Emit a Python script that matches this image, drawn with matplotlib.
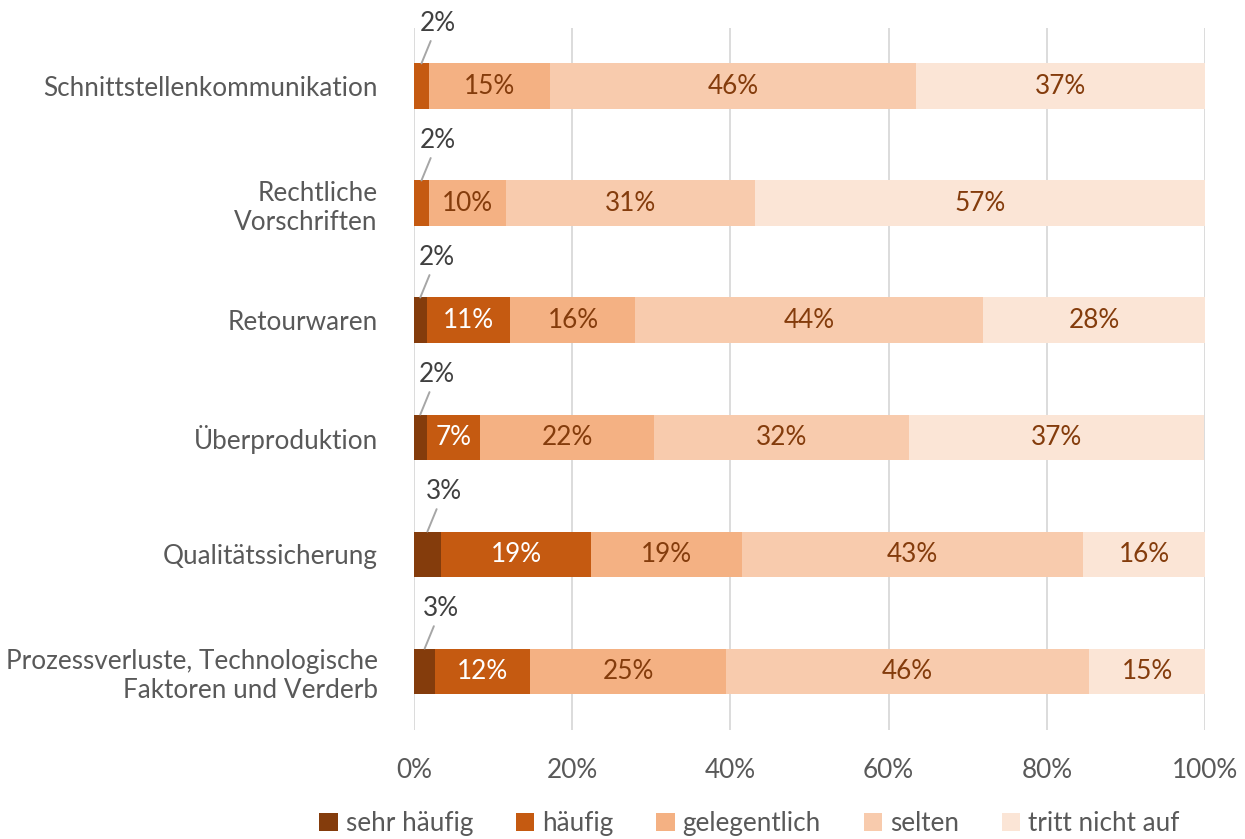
import matplotlib
matplotlib.use("Agg")
import matplotlib.pyplot as plt
import numpy as np

plt.rcParams['font.family'] = ['Lato', 'DejaVu Sans']

categories = ["Schnittstellenkommunikation", "Rechtliche\nVorschriften", "Retourwaren",
              "Überproduktion", "Qualitätssicherung",
              "Prozessverluste, Technologische\nFaktoren und Verderb"]
series_names = ["sehr häufig", "häufig", "gelegentlich", "selten", "tritt nicht auf"]
sehr_haeufig = [0.0, 0.0, 1.6, 1.6, 3.4, 2.7]
haeufig = [1.9, 1.9, 10.6, 6.8, 19.0, 12.0]
gelegentlich = [15.3, 9.7, 15.8, 22.0, 19.0, 24.8]
selten = [46.3, 31.5, 43.9, 32.2, 43.2, 45.8]
tritt_nicht_auf = [36.5, 56.9, 28.1, 37.3, 15.4, 14.8]
labels_sehr = ["", "", "2%", "2%", "3%", "3%"]
labels_haeufig = ["2%", "2%", "11%", "7%", "19%", "12%"]
labels_gel = ["15%", "10%", "16%", "22%", "19%", "25%"]
labels_selten = ["46%", "31%", "44%", "32%", "43%", "46%"]
labels_tna = ["37%", "57%", "28%", "37%", "16%", "15%"]
xticks = [0, 20, 40, 60, 80, 100]
xtick_labels = ["0%", "20%", "40%", "60%", "80%", "100%"]

colors = ["#843C0C", "#C55A11", "#F4B183", "#F8CBAD", "#FBE5D6"]
text_colors = ["#404040", "white", "#843C0C", "#843C0C", "#843C0C"]

data = [sehr_haeufig, haeufig, gelegentlich, selten, tritt_nicht_auf]
labels = [labels_sehr, labels_haeufig, labels_gel, labels_selten, labels_tna]

FS = 18.8
fig = plt.figure(figsize=(12.45, 8.39), dpi=100)
ax = fig.add_axes([0.3325, 0.13, 0.968 - 0.3325, 0.967 - 0.13])

y = np.arange(len(categories))[::-1]
left = np.zeros(len(categories))
bar_h = 0.39
for si, (vals, name) in enumerate(zip(data, series_names)):
    vals = np.array(vals)
    ax.barh(y, vals, left=left, height=bar_h, color=colors[si], label=name, zorder=3)
    for i in range(len(categories)):
        lab = labels[si][i]
        if not lab:
            continue
        cx = left[i] + vals[i] / 2
        if vals[i] < 4:
            ax.annotate(lab, xy=(cx, y[i] + bar_h / 2), xytext=(cx + 2.1, y[i] + 0.54),
                        ha='center', va='center', fontsize=FS, color="#404040",
                        arrowprops=dict(arrowstyle='-', color='#A6A6A6', lw=1.4,
                                        patchA=None, shrinkA=14, shrinkB=0), zorder=4)
        else:
            ax.text(cx, y[i], lab, ha='center', va='center', fontsize=FS,
                    color=text_colors[si], zorder=4)
    left += vals

ax.set_xlim(0, 100)
ax.set_ylim(-0.5, len(categories) - 0.5)
ax.set_xticks(xticks)
ax.set_xticklabels(xtick_labels)
ax.set_yticks(y)
ax.set_yticklabels(categories, ha='right', multialignment='right')
ax.tick_params(axis='both', length=0, labelsize=FS, colors='#595959')
ax.tick_params(axis='x', pad=20)
ax.tick_params(axis='y', pad=26)
ax.grid(axis='x', color='#D9D9D9', lw=1.3, zorder=0)
for s in ax.spines.values():
    s.set_visible(False)

handles, hlabels = ax.get_legend_handles_labels()
fig.legend(handles, hlabels, loc='center', bbox_to_anchor=(0.602, 0.018), ncol=5,
           frameon=False, fontsize=FS, handlelength=0.7, handleheight=0.7,
           handletextpad=0.3, columnspacing=1.65, labelcolor='#595959')

fig.savefig("out.png", dpi=100)
